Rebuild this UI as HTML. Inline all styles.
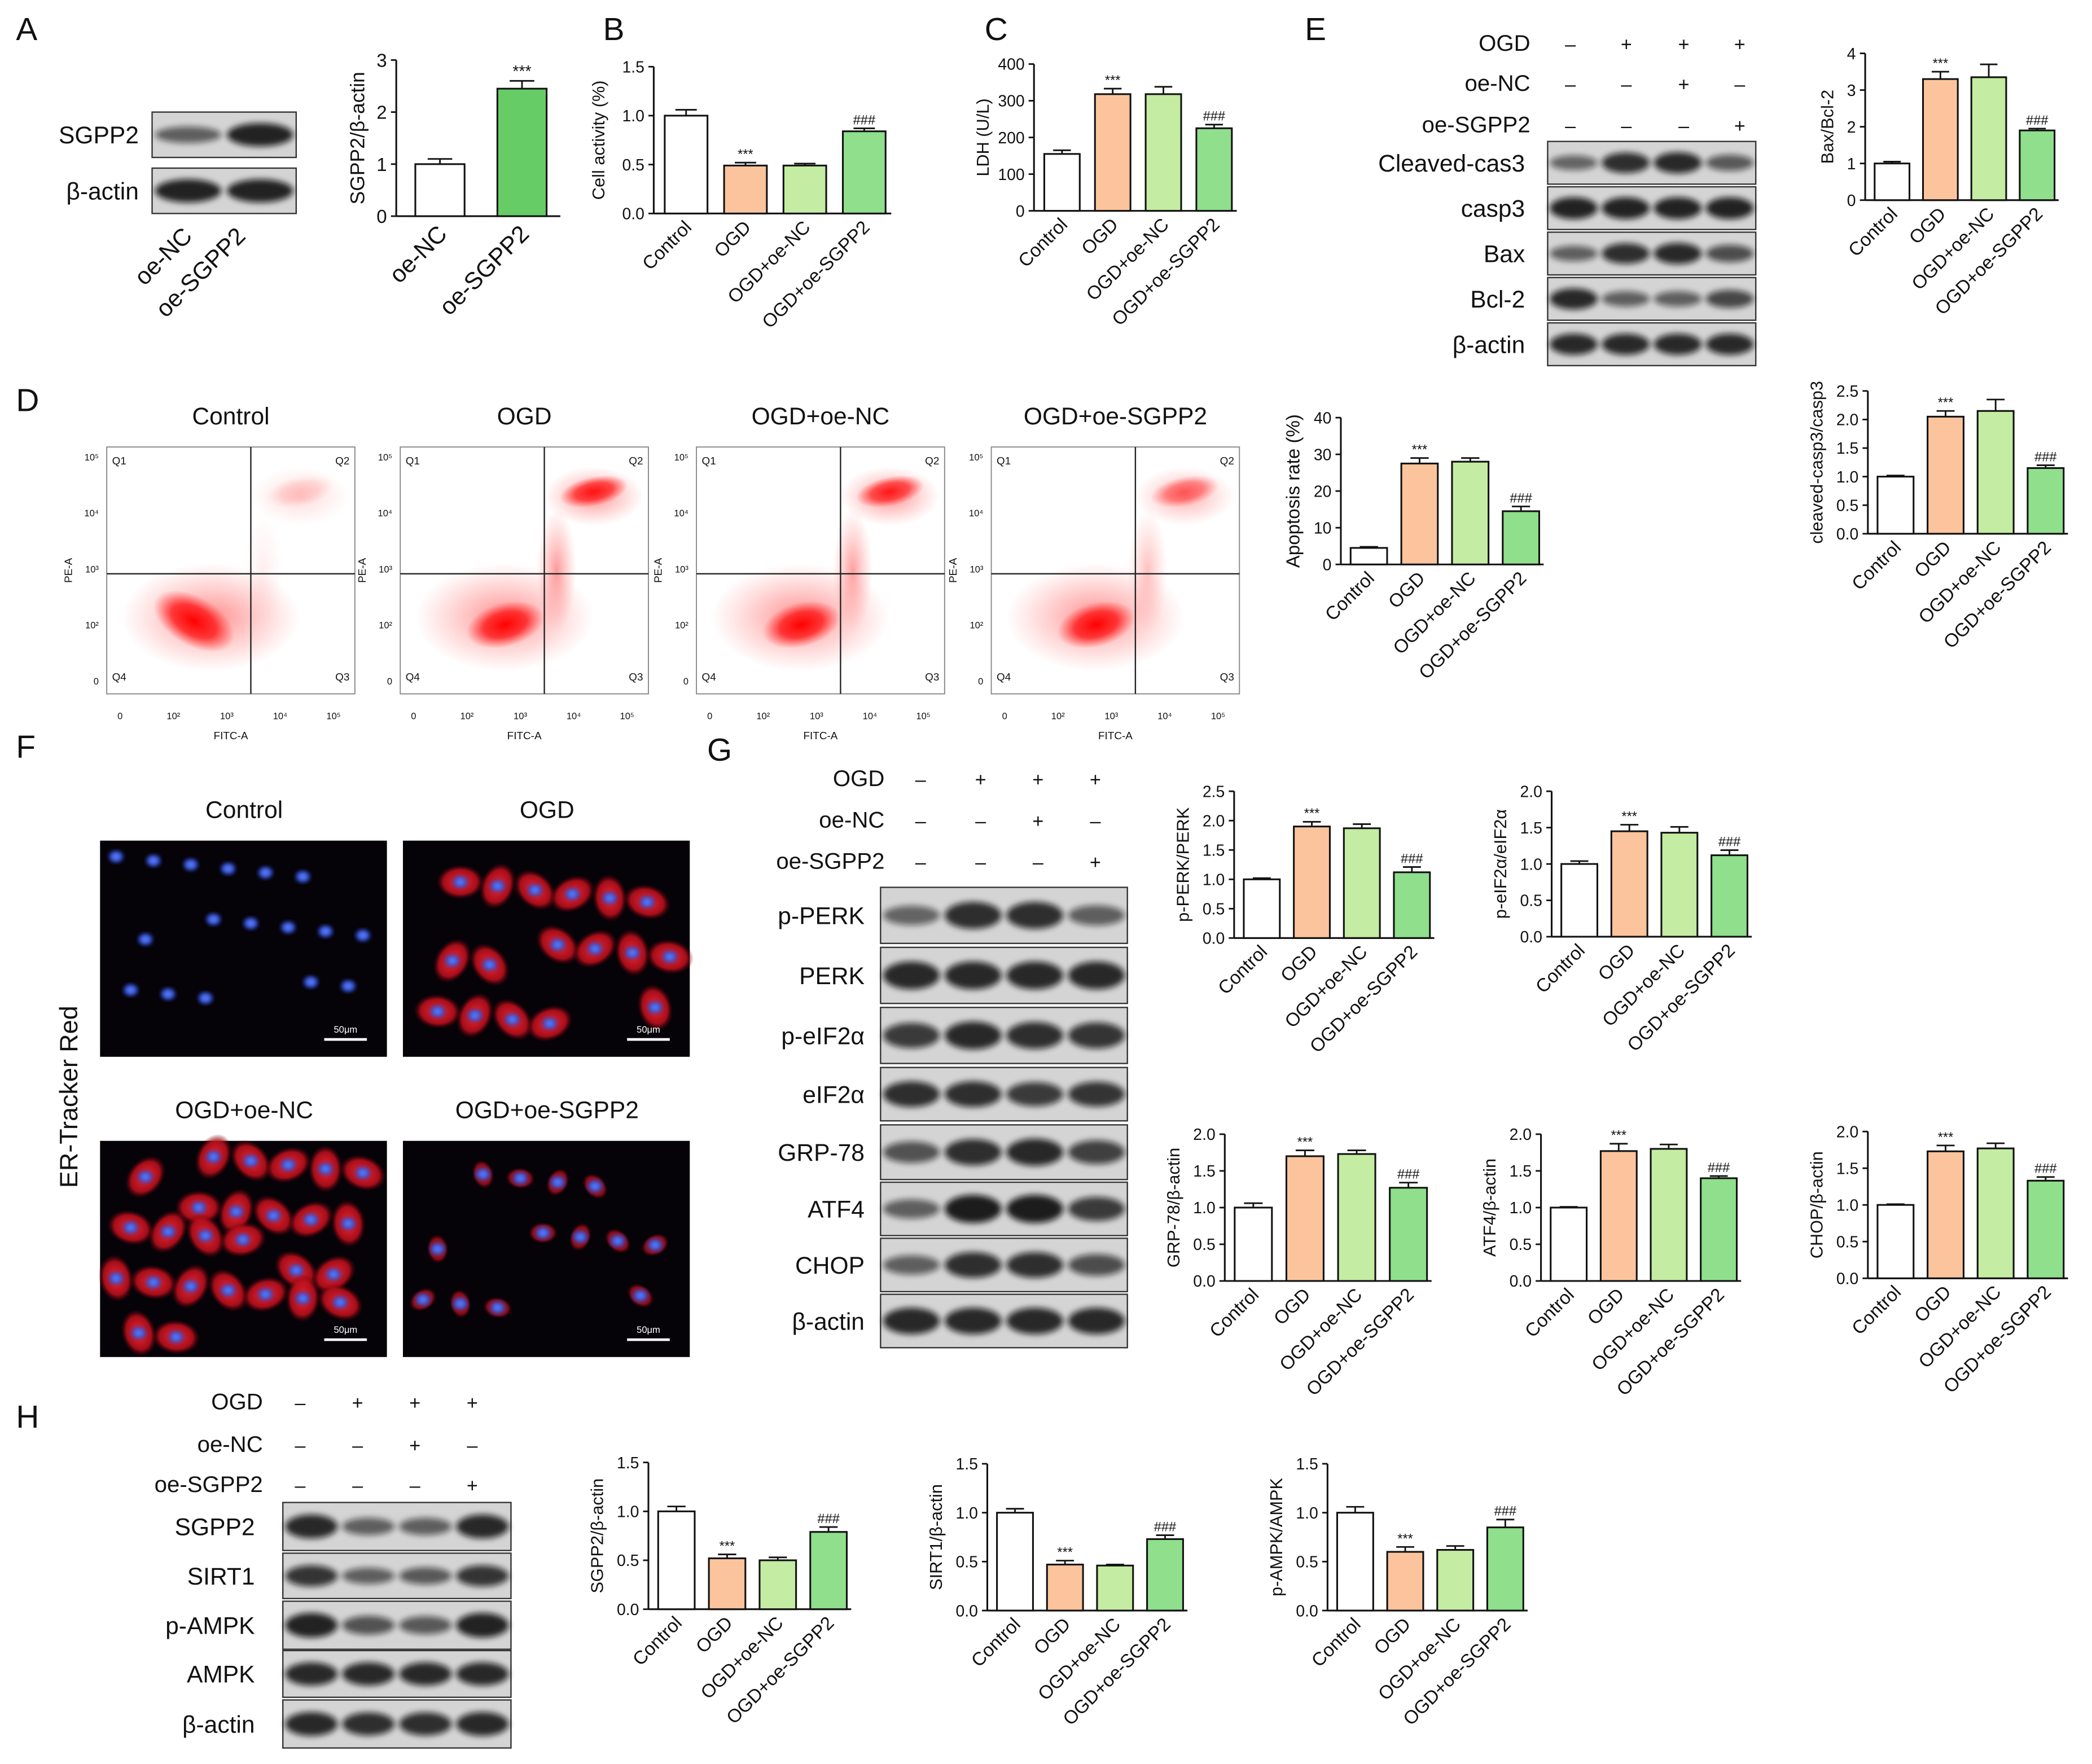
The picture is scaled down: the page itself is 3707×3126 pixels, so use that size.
<!DOCTYPE html>
<html><head><meta charset="utf-8"><style>
html,body{margin:0;padding:0;background:#fff}
svg{display:block}
text{font-family:"Liberation Sans",Arial,sans-serif;fill:#111}
</style></head><body>
<svg id="fig" xmlns="http://www.w3.org/2000/svg" width="3707" height="3126" viewBox="0 0 1568 1322" preserveAspectRatio="none">
<defs>
<filter id="blur1" x="-20%" y="-50%" width="140%" height="200%"><feGaussianBlur stdDeviation="2.2"/></filter>
<filter id="blur2"><feGaussianBlur stdDeviation="1.5"/></filter>
<radialGradient id="redcl"><stop offset="0" stop-color="#ff0000" stop-opacity="1"/><stop offset="0.55" stop-color="#ff2020" stop-opacity="0.85"/><stop offset="1" stop-color="#ff4040" stop-opacity="0"/></radialGradient>
<radialGradient id="redsp"><stop offset="0" stop-color="#ff3030" stop-opacity="0.55"/><stop offset="1" stop-color="#ff6060" stop-opacity="0"/></radialGradient>
<radialGradient id="cellR"><stop offset="0" stop-color="#ff2a3a"/><stop offset="0.7" stop-color="#c0101c" stop-opacity="0.9"/><stop offset="1" stop-color="#600008" stop-opacity="0"/></radialGradient>
<radialGradient id="nucB"><stop offset="0" stop-color="#6a8cff"/><stop offset="0.7" stop-color="#3050d8"/><stop offset="1" stop-color="#2030a0" stop-opacity="0.3"/></radialGradient>
</defs>
</svg>
<script>
// ---------- chart data ----------
const catsA = ["oe-NC","oe-SGPP2"];
const cats4 = ["Control","OGD","OGD+oe-NC","OGD+oe-SGPP2"];
const valsA = [1.0, 2.45];           const errsA = [0.1, 0.15];
const valsB = [1.0, 0.49, 0.49, 0.84]; const errsB = [0.06, 0.03, 0.02, 0.03];
const valsC = [155, 318, 318, 225];    const errsC = [10, 15, 20, 10];
const valsBax = [1.0, 3.3, 3.35, 1.9]; const errsBax = [0.05, 0.2, 0.35, 0.05];
const valsCas = [1.0, 2.05, 2.15, 1.15]; const errsCas = [0.02, 0.1, 0.2, 0.05];
const valsApo = [4.5, 27.5, 28, 14.5]; const errsApo = [0.3, 1.5, 1, 1.3];
const valsPerk = [1.0, 1.9, 1.87, 1.12]; const errsPerk = [0.02, 0.08, 0.07, 0.09];
const valsEif = [1.0, 1.45, 1.43, 1.12]; const errsEif = [0.04, 0.09, 0.08, 0.07];
const valsGrp = [1.0, 1.7, 1.73, 1.27]; const errsGrp = [0.06, 0.08, 0.05, 0.07];
const valsAtf = [1.0, 1.77, 1.8, 1.4];  const errsAtf = [0.01, 0.1, 0.06, 0.03];
const valsChop = [1.0, 1.73, 1.77, 1.33]; const errsChop = [0.01, 0.08, 0.07, 0.05];
const valsHs = [1.0, 0.52, 0.5, 0.79];  const errsHs = [0.05, 0.04, 0.03, 0.05];
const valsHsirt = [1.0, 0.47, 0.46, 0.73]; const errsHsirt = [0.04, 0.04, 0.01, 0.04];
const valsHampk = [1.0, 0.6, 0.62, 0.85]; const errsHampk = [0.06, 0.05, 0.04, 0.08];
const ticksA = [0,1,2,3];
const ticks15 = ["0.0","0.5","1.0","1.5"];
const ticksC = [0,100,200,300,400];
const ticksBax = [0,1,2,3,4];
const ticks25 = ["0.0","0.5","1.0","1.5","2.0","2.5"];
const ticksApo = [0,10,20,30,40];
const ticks20 = ["0.0","0.5","1.0","1.5","2.0"];

const NS = "http://www.w3.org/2000/svg";
const svg = document.getElementById('fig');
function el(tag, attrs, parent, txt){
  const e = document.createElementNS(NS, tag);
  for (const k in attrs) e.setAttribute(k, attrs[k]);
  if (txt !== undefined) e.textContent = txt;
  (parent||svg).appendChild(e);
  return e;
}
const COLS4 = ["#ffffff","#fbc49c","#c4eca2","#8fdf8c"];

function barChart(name, c){
  const g = el('g', {});
  
  
  const H = c.bottom - c.top;
  const maxT = parseFloat(c.ticks[c.ticks.length-1]);
  const yS = v => c.bottom - v / maxT * H;
  const n = c.vals.length;
  const slot = c.w / n;
  const bw = slot * (c.bwf || 0.72);
  const fs = c.fs || 12;
  const ya = el('line', {x1:c.x, y1:c.top, x2:c.x, y2:c.bottom, stroke:'#111','stroke-width':1.3}, g);
  
  
  const xa = el('line', {x1:c.x, y1:c.bottom, x2:c.x+c.w, y2:c.bottom, stroke:'#111','stroke-width':1.3}, g);
  
  
  c.ticks.forEach(t => {
    const y = yS(parseFloat(t));
    el('line', {x1:c.x-4, y1:y, x2:c.x, y2:y, stroke:'#111','stroke-width':1.2}, g);
    const tl = el('text', {x:c.x-7, y:y+fs*0.36, 'font-size':fs, 'text-anchor':'end'}, g, String(t));
    
    
  });
  const yl = el('text', {x:0, y:0, 'font-size':c.lfs||13, 'text-anchor':'middle', transform:`translate(${c.x-(c.ylo||33)},${(c.top+c.bottom)/2}) rotate(-90)`}, g, c.ylabel);
  
  
  c.vals.forEach((v, i) => {
    const cx = c.x + slot*(i+0.5) + (c.off||2);
    const y = yS(v);
    const top = yS(v + c.errs[i]);
    el('line', {x1:cx, y1:y, x2:cx, y2:top, stroke:'#111','stroke-width':1.2}, g);
    el('line', {x1:cx-bw*0.25, y1:top, x2:cx+bw*0.25, y2:top, stroke:'#111','stroke-width':1.2}, g);
    const r = el('rect', {x:cx-bw/2, y:y, width:bw, height:c.bottom-y, fill:c.colors[i], stroke:'#111','stroke-width':1.3}, g);
    
    
    if (c.ann && c.ann[i]) {
      const a = el('text', {x:cx, y:top-3, 'font-size':c.afs||10, 'text-anchor':'middle'}, g, c.ann[i]);
      
      
    }
    const xfs = c.xfs || 14;
    const xl = el('text', {x:0, y:0, 'font-size':xfs, 'text-anchor':'end', transform:`translate(${cx+xfs*0.35},${c.bottom+xfs*0.8}) rotate(-45)`}, g, c.cats[i]);
    
    
  });
}
const ann4 = ["","***","","###"];
barChart('chart-a-sgpp2', {x:297, top:45, bottom:162, w:123, ticks:ticksA, vals:valsA, errs:errsA, cats:catsA, colors:["#ffffff","#66cc66"], ylabel:"SGPP2/β-actin", ann:["","***"], fs:14, lfs:15, xfs:18, ylo:24, afs:12, bwf:0.6, off:0});
barChart('chart-b-cell-activity', {x:490, top:50, bottom:160, w:178, ticks:ticks15, vals:valsB, errs:errsB, cats:cats4, colors:COLS4, ylabel:"Cell activity (%)", ann:ann4, ylo:37});
barChart('chart-c-ldh', {x:775, top:48, bottom:158, w:152, ticks:ticksC, vals:valsC, errs:errsC, cats:cats4, colors:COLS4, ylabel:"LDH (U/L)", ann:ann4, ylo:34, bwf:0.7});
barChart('chart-e-bax-bcl2', {x:1398, top:40, bottom:150, w:145, ticks:ticksBax, vals:valsBax, errs:errsBax, cats:cats4, colors:COLS4, ylabel:"Bax/Bcl-2", ann:ann4, ylo:24});
barChart('chart-e-cleaved-casp3', {x:1400, top:293, bottom:400, w:150, ticks:ticks25, vals:valsCas, errs:errsCas, cats:cats4, colors:COLS4, ylabel:"cleaved-casp3/casp3", ann:ann4, ylo:34});
barChart('chart-d-apoptosis', {x:1005, top:313, bottom:423, w:152, ticks:ticksApo, vals:valsApo, errs:errsApo, cats:cats4, colors:COLS4, ylabel:"Apoptosis rate (%)", ann:ann4, ylo:31, lfs:14});
barChart('chart-g-pperk', {x:925, top:593, bottom:703, w:150, ticks:ticks25, vals:valsPerk, errs:errsPerk, cats:cats4, colors:COLS4, ylabel:"p-PERK/PERK", ann:ann4, ylo:34});
barChart('chart-g-peif2a', {x:1163, top:593, bottom:702, w:150, ticks:ticks20, vals:valsEif, errs:errsEif, cats:cats4, colors:COLS4, ylabel:"p-eIF2α/eIF2α", ann:ann4, ylo:34});
barChart('chart-g-grp78', {x:918, top:850, bottom:960, w:155, ticks:ticks20, vals:valsGrp, errs:errsGrp, cats:cats4, colors:COLS4, ylabel:"GRP-78/β-actin", ann:ann4, ylo:34});
barChart('chart-g-atf4', {x:1155, top:850, bottom:960, w:150, ticks:ticks20, vals:valsAtf, errs:errsAtf, cats:cats4, colors:COLS4, ylabel:"ATF4/β-actin", ann:ann4, ylo:34});
barChart('chart-g-chop', {x:1400, top:848, bottom:958, w:150, ticks:ticks20, vals:valsChop, errs:errsChop, cats:cats4, colors:COLS4, ylabel:"CHOP/β-actin", ann:ann4, ylo:34});
barChart('chart-h-sgpp2', {x:486, top:1096, bottom:1206, w:152, ticks:ticks15, vals:valsHs, errs:errsHs, cats:cats4, colors:COLS4, ylabel:"SGPP2/β-actin", ann:ann4, ylo:34});
barChart('chart-h-sirt1', {x:740, top:1097, bottom:1207, w:150, ticks:ticks15, vals:valsHsirt, errs:errsHsirt, cats:cats4, colors:COLS4, ylabel:"SIRT1/β-actin", ann:ann4, ylo:34});
barChart('chart-h-pampk', {x:995, top:1097, bottom:1207, w:150, ticks:ticks15, vals:valsHampk, errs:errsHampk, cats:cats4, colors:COLS4, ylabel:"p-AMPK/AMPK", ann:ann4, ylo:34});

// ---------- panel letters ----------
[["A",12,30],["B",452,30],["C",738,30],["E",978,30],["D",12,308],["F",12,568],["G",530,570],["H",12,1070]].forEach(p=>{
  const t = el('text', {x:p[1], y:p[2], 'font-size':24}, svg, p[0]);
  
  
});

// ---------- western blots ----------
function blot(name, x, w, rows, labels, inten, lx, lfs){
  const g = el('g', {});
  
  
  rows.forEach((r, ri) => {
    const [y0, y1] = r;
    el('rect', {x:x, y:y0, width:w, height:y1-y0, fill:'#d4d4d4', stroke:'#333','stroke-width':1}, g);
    const n = inten[ri].length, lw = w/n;
    inten[ri].forEach((k, li) => {
      const cx = x + lw*(li+0.5);
      const b = el('ellipse', {cx:cx, cy:(y0+y1)/2, rx:lw*0.46, ry:(y1-y0)*(0.12+0.15*k), fill:'#111', opacity:0.35+0.6*k, filter:'url(#blur1)'}, g);
      
      
    });
    const t = el('text', {x:lx, y:(y0+y1)/2+lfs*0.36, 'font-size':lfs, 'text-anchor':'end'}, g, labels[ri]);
    
    
  });
}
function signs(name, cols, ys, labels, lx, fs, pattern){
  const g = el('g', {});
  
  
  ys.forEach((y, ri) => {
    const t = el('text', {x:lx, y:y+fs*0.36, 'font-size':fs, 'text-anchor':'end'}, g, labels[ri]);
    
    
    cols.forEach((cx, ci) => {
      const s = el('text', {x:cx, y:y+fs*0.36, 'font-size':fs*0.85, 'text-anchor':'middle'}, g, pattern[ri][ci] ? '+' : '–');
      
      
    });
  });
}
const pat = [[0,1,1,1],[0,0,1,0],[0,0,0,1]];
const condL = ["OGD","oe-NC","oe-SGPP2"];
blot('blot-a', 114, 108, [[84,118],[126,160]], ["SGPP2","β-actin"], [[0.4,0.9],[0.9,0.9]], 104, 18);
[["oe-NC",145],["oe-SGPP2",185]].forEach(p=>{
  const t = el('text', {x:0,y:0,'font-size':18,'text-anchor':'end',transform:`translate(${p[1]},${178}) rotate(-45)`}, svg, p[0]);
  
  
});
signs('conditions-e', [1177,1219,1262,1304], [32,62,93], condL, 1147, 17, pat);
blot('blot-e', 1160, 156, [[106,138],[140,172],[174,206],[208,240],[242,274]], ["Cleaved-cas3","casp3","Bax","Bcl-2","β-actin"],
  [[0.35,0.8,0.85,0.45],[0.9,0.9,0.9,0.9],[0.4,0.8,0.85,0.55],[0.85,0.4,0.4,0.6],[0.85,0.85,0.85,0.85]], 1143, 18);
signs('conditions-g', [690,735,778,821], [583,614,645], condL, 663, 17, pat);
blot('blot-g', 660, 185, [[665,707],[710,752],[755,797],[800,840],[843,884],[886,926],[928,968],[970,1010]],
  ["p-PERK","PERK","p-eIF2α","eIF2α","GRP-78","ATF4","CHOP","β-actin"],
  [[0.35,0.8,0.8,0.4],[0.85,0.85,0.85,0.85],[0.7,0.85,0.8,0.75],[0.8,0.8,0.7,0.75],[0.5,0.8,0.85,0.65],[0.4,0.95,0.95,0.7],[0.4,0.8,0.8,0.55],[0.85,0.85,0.85,0.85]], 648, 18);
signs('conditions-h', [225,268,311,354], [1050,1082,1112], condL, 197, 17, pat);
blot('blot-h', 212, 171, [[1126,1162],[1164,1198],[1200,1236],[1237,1272],[1274,1310]],
  ["SGPP2","SIRT1","p-AMPK","AMPK","β-actin"],
  [[0.85,0.4,0.4,0.85],[0.75,0.4,0.45,0.75],[0.9,0.5,0.45,0.9],[0.85,0.85,0.85,0.85],[0.85,0.8,0.8,0.85]], 191, 18);

// ---------- flow cytometry ----------
const flowT = ["Control","OGD","OGD+oe-NC","OGD+oe-SGPP2"];
const flowX = [80,300,522,743];
const flowQ2 = [0.15,0.9,0.85,0.55];
flowX.forEach((fx, i) => {
  const g = el('g', {});
  
  
  const w = 186, y0 = 335, h = 185;
  el('rect', {x:fx, y:y0, width:w, height:h, fill:'#fff', stroke:'#888','stroke-width':0.8}, g);
  const t = el('text', {x:fx+w/2, y:318, 'font-size':18, 'text-anchor':'middle'}, g, flowT[i]);
  
  
  const vx = fx + 108, hy = 430;
  el('ellipse', {cx:fx+w*0.42, cy:y0+h*0.69, rx:w*0.36, ry:h*0.22, fill:'url(#redsp)'}, g);
  el('ellipse', {cx:fx+(i?w*0.42:w*0.36), cy:y0+h*(i?0.72:0.7), rx:w*(i?0.16:0.1), ry:h*(i?0.09:0.18), fill:'url(#redcl)', transform:`rotate(${i?-15:-60} ${fx+(i?w*0.42:w*0.36)} ${y0+h*0.71})`}, g);
  el('ellipse', {cx:fx+w*0.78, cy:y0+h*0.2, rx:w*0.2, ry:h*0.12, fill:'url(#redsp)', opacity:flowQ2[i]+0.2}, g);
  el('ellipse', {cx:fx+w*0.78, cy:y0+h*0.18, rx:w*0.14, ry:h*0.06, fill:'url(#redcl)', opacity:flowQ2[i], transform:`rotate(-12 ${fx+w*0.78} ${y0+h*0.18})`}, g);
  el('ellipse', {cx:fx+w*0.63, cy:y0+h*0.5, rx:w*0.08, ry:h*0.25, fill:'url(#redsp)', opacity:flowQ2[i]}, g);
  el('line', {x1:vx, y1:y0, x2:vx, y2:y0+h, stroke:'#222','stroke-width':1}, g);
  el('line', {x1:fx, y1:hy, x2:fx+w, y2:hy, stroke:'#222','stroke-width':1}, g);
  [["Q1",fx+4,y0+13,'start'],["Q2",fx+w-4,y0+13,'end'],["Q4",fx+4,y0+h-10,'start'],["Q3",fx+w-4,y0+h-10,'end']].forEach(q=>{
    el('text', {x:q[1], y:q[2], 'font-size':8, 'text-anchor':q[3]}, g, q[0]);
  });
  ["0","10²","10³","10⁴","10⁵"].forEach((s, k) => {
    el('text', {x:fx+10+k*40, y:y0+h+19, 'font-size':7, 'text-anchor':'middle'}, g, s);
    el('text', {x:fx-6, y:y0+h-10-k*42+3, 'font-size':7, 'text-anchor':'end'}, g, s);
  });
  el('text', {x:fx+w/2, y:y0+h+34, 'font-size':8, 'text-anchor':'middle'}, g, 'FITC-A');
  el('text', {x:0, y:0, 'font-size':8, 'text-anchor':'middle', transform:`translate(${fx-26},${y0+h/2}) rotate(-90)`}, g, 'PE-A');
});

// ---------- fluorescence images ----------
const imgs = [["Control",75,630,0.1],["OGD",302,630,1],["OGD+oe-NC",75,855,1],["OGD+oe-SGPP2",302,855,0.5]];
imgs.forEach((im, k) => {
  const g = el('g', {});
  
  
  const [lbl, x, y, red] = im;
  const t = el('text', {x:x+108, y:y-17, 'font-size':18, 'text-anchor':'middle'}, g, lbl);
  
  
  el('rect', {x:x, y:y, width:215, height:162, fill:'#050208'}, g);
  const n = k===2 ? 26 : (k===3 ? 13 : 17);
  for (let i = 0; i < n; i++) {
    const cx = x + 12 + ((i*73 + k*31) % 191);
    const cy = y + 12 + ((i*47 + k*19) % 138);
    if (red > 0.2) el('ellipse', {cx:cx, cy:cy, rx:14*red+4, ry:10*red+3, fill:'url(#cellR)', opacity:0.6+0.35*red, transform:`rotate(${(i*37)%180} ${cx} ${cy})`}, g);
    el('ellipse', {cx:cx, cy:cy, rx:6, ry:5, fill:'url(#nucB)', filter:'url(#blur2)'}, g);
  }
  el('line', {x1:x+168, y1:y+149, x2:x+200, y2:y+149, stroke:'#fff','stroke-width':2}, g);
  el('text', {x:x+184, y:y+144, 'font-size':7, 'text-anchor':'middle', fill:'#fff', style:'fill:#fff'}, g, '50μm');
});
const er = el('text', {x:0, y:0, 'font-size':19, 'text-anchor':'middle', transform:'translate(58,822) rotate(-90)'}, svg, 'ER-Tracker Red');


</script>
</body></html>
